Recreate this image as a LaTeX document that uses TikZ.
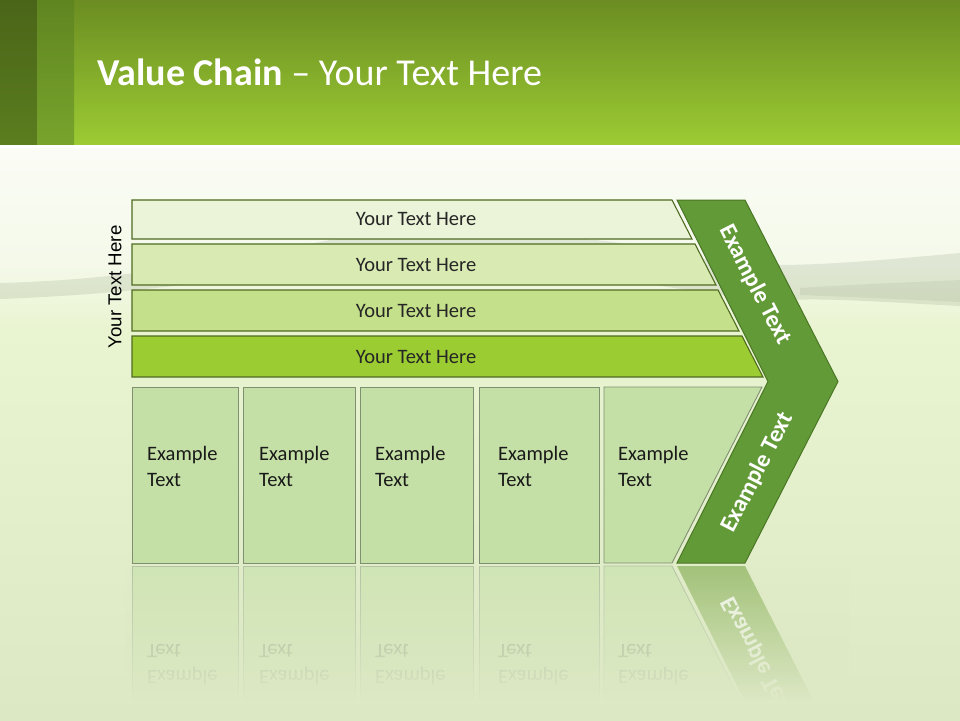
\documentclass[tikz,border=0pt]{standalone}
\usepackage{fontspec}
\setmainfont{Carlito}
\newfontfamily\arialf{Liberation Sans}
\usetikzlibrary{fadings}
\definecolor{hdA}{HTML}{6B8D22}
\definecolor{hdB}{HTML}{9CCB33}
\definecolor{sOneA}{HTML}{4A6518}
\definecolor{sOneB}{HTML}{5B7D1F}
\definecolor{sTwoA}{HTML}{5F8521}
\definecolor{sTwoB}{HTML}{78A42C}
\definecolor{bgA}{HTML}{FBFCF6}
\definecolor{bgAA}{HTML}{F4F9E9}
\definecolor{bgB}{HTML}{E9F4D0}
\definecolor{bgD}{HTML}{DCE7C4}
\definecolor{bgEnd}{HTML}{DDE8C5}
\definecolor{bandc}{HTML}{7A8A6C}
\definecolor{barA}{HTML}{EBF4D8}
\definecolor{barB}{HTML}{D9EBB3}
\definecolor{barC}{HTML}{C5E08A}
\definecolor{barD}{HTML}{9BCC32}
\definecolor{barline}{HTML}{4F6B22}
\definecolor{boxfill}{HTML}{C4E0A6}
\definecolor{boxline}{HTML}{7F8F72}
\definecolor{chevfill}{HTML}{639A38}
\definecolor{chevline}{HTML}{4A7725}
\definecolor{bartxt}{HTML}{262626}
\definecolor{boxtxt}{HTML}{1A1A1A}
\definecolor{rfbox}{HTML}{D0E5B5}
\definecolor{rfline}{HTML}{B3C3A4}
\definecolor{rfarm}{HTML}{A3C27A}
\definecolor{rftext}{HTML}{9AAB8B}
\tikzfading[name=reflfade, top color=transparent!100, bottom color=transparent!0]
\begin{document}
\begin{tikzpicture}[x=1pt,y=-1pt,
  barshape/.style={draw=barline, line width=1.1pt},
  boxshape/.style={draw=boxline, fill=boxfill, line width=0.9pt},
  rfshape/.style={draw=rfline, fill=rfbox, line width=0.8pt},
  bartext/.style={font=\fontsize{20.5}{24}\selectfont, text=bartxt, inner sep=0pt},
  boxtext/.style={font=\fontsize{20.5}{26}\selectfont, text=boxtxt, align=left, inner sep=0pt, anchor=west},
  chevtext/.style={font=\bfseries\fontsize{24}{28}\selectfont, text=white, inner sep=0pt},
  refltext/.style={font=\fontsize{20.5}{26}\selectfont, text=rftext, inner sep=0pt, anchor=base west, yscale=-1}
]
\useasboundingbox (0,0) rectangle (960,720);
% body background
\shade[top color=bgA, bottom color=bgAA] (0,146) rectangle (960,266);
\shade[top color=bgAA, bottom color=bgB] (0,265) rectangle (960,331);
\shade[top color=bgB, bottom color=bgD] (0,330) rectangle (960,720);
% water band
\fill[bandc, opacity=0.17] (0,283) .. controls (120,280) and (220,262) .. (330,240)
  .. controls (450,228) and (600,232) .. (700,258)
  .. controls (760,272) and (860,262) .. (960,253)
  -- (960,306) .. controls (880,302) and (830,298) .. (790,300)
  .. controls (700,300) and (600,268) .. (480,262)
  .. controls (330,258) and (200,292) .. (0,299) -- cycle;
\fill[bandc, opacity=0.12] (800,288) .. controls (860,284) and (920,282) .. (960,280)
  -- (960,302) .. controls (900,299) and (850,297) .. (800,295) -- cycle;
% header
\shade[top color=hdA, bottom color=hdB] (0,0) rectangle (960,145);
\shade[top color=sOneA, bottom color=sOneB] (0,0) rectangle (37,145);
\shade[top color=sTwoA, bottom color=sTwoB] (37,0) rectangle (74,145);
\fill[white] (0,145) rectangle (960,148);
\node[anchor=base west, text=white, font=\fontsize{38}{45}\selectfont, inner sep=0pt] (title) at (97,85) {\textbf{Value Chain} -- Your Text Here};
% bars
\draw[barshape, fill=barA] (132,200) -- (672,200) -- (692,239) -- (132,239) -- cycle;
\draw[barshape, fill=barB] (132,244) -- (695,244) -- (716,285) -- (132,285) -- cycle;
\draw[barshape, fill=barC] (132,290) -- (718,290) -- (739,331) -- (132,331) -- cycle;
\draw[barshape, fill=barD] (132,336) -- (742,336) -- (763,377) -- (132,377) -- cycle;
\node[bartext] (bt1) at (416,219) {Your Text Here};
\node[bartext] (bt2) at (416,265) {Your Text Here};
\node[bartext] (bt3) at (416,311) {Your Text Here};
\node[bartext] (bt4) at (416,357) {Your Text Here};
% vertical label
\node[font=\arialf\fontsize{18.7}{22}\selectfont, rotate=90, inner sep=0pt] (vt) at (115,287) {Your Text Here};
% boxes
\draw[boxshape] (132,387) rectangle (238,563);
\draw[boxshape] (243,387) rectangle (355,563);
\draw[boxshape] (360,387) rectangle (473,563);
\draw[boxshape] (479,387) rectangle (599,563);
\draw[boxshape] (604,387) -- (762,387) -- (672,563) -- (604,563) -- cycle;
\node[boxtext] (x1) at (147,466) {Example\\Text};
\node[boxtext] (x2) at (259,466) {Example\\Text};
\node[boxtext] (x3) at (375,466) {Example\\Text};
\node[boxtext] (x4) at (498,466) {Example\\Text};
\node[boxtext] (x5) at (618,466) {Example\\Text};
% chevron
\draw[fill=chevfill, draw=chevline, line width=1pt] (677,200) -- (745,200) -- (838,381.5) -- (745,563) -- (677,563) -- (768,381.5) -- cycle;
\node[chevtext, rotate=-62.8] (c1) at (755,285) {Example Text};
\node[chevtext, rotate=62.8] (c2) at (757.5,472.5) {Example Text};
% reflections
\draw[rfshape] (132,566) rectangle (238,700);
\draw[rfshape] (243,566) rectangle (355,700);
\draw[rfshape] (360,566) rectangle (473,700);
\draw[rfshape] (479,566) rectangle (599,700);
\draw[rfshape] (604,566) -- (672,566) -- (740,700) -- (604,700) -- cycle;
\fill[rfarm] (677,566) -- (745,566) -- (813,700) -- (744,700) -- cycle;
\begin{scope}
  \clip (677,566) -- (745,566) -- (813,700) -- (744,700) -- cycle;
  \node[chevtext, opacity=0.85, rotate=-62.8, yscale=-1] (rc) at (757.5,656.5) {Example Text};
\end{scope}
\foreach \xx/\nn in {147/1,259/2,375/3,498/4,618/5}{
  \node[refltext] (rt\nn) at (\xx,644) {Text};
  \node[refltext] (re\nn) at (\xx,670) {Example};
}
\fill[bgEnd, path fading=reflfade, fit fading=true] (125,566) rectangle (850,702);
\end{tikzpicture}
\end{document}
